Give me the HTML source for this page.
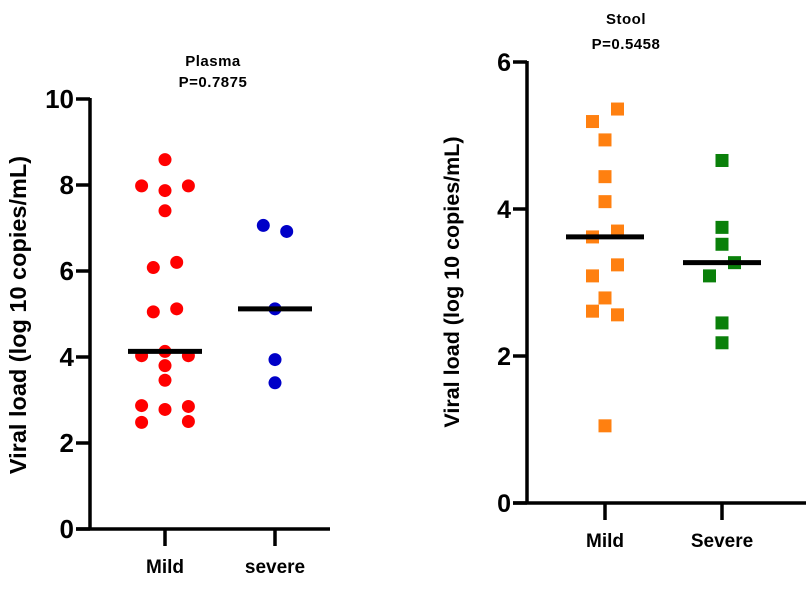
<!DOCTYPE html>
<html><head><meta charset="utf-8"><style>
body{margin:0;background:#fff;width:806px;height:584px;overflow:hidden}
svg text{font-family:"Liberation Sans",Arial,sans-serif;font-weight:bold}
</style></head><body>
<svg id="c" width="806" height="584" viewBox="0 0 806 584"></svg>
<script>
// Plasma panel data
const plasmaCats = ["Mild","severe"];
const plasmaMild = [8.59,7.98,7.98,7.87,7.40,6.08,6.20,5.05,5.12,4.03,4.13,4.03,3.80,3.46,2.87,2.78,2.85,2.48,2.50];
const plasmaMildJit = [0,-2,2,0,0,-1,1,-1,1,-2,0,2,0,0,-2,0,2,-2,2];
const plasmaSevere = [7.06,6.92,5.12,3.94,3.40];
const plasmaSevereJit = [-1,1,0,0,0];
const plasmaMedians = [4.13,5.12];
const plasmaTicks = [0,2,4,6,8,10];
// Stool panel data
const stoolCats = ["Mild","Severe"];
const stoolMild = [5.36,5.19,4.94,4.44,4.10,3.70,3.62,3.24,3.09,2.79,2.61,2.56,1.05];
const stoolMildJit = [1,-1,0,0,0,1,-1,1,-1,0,-1,1,0];
const stoolSevere = [4.66,3.75,3.52,3.27,3.09,2.45,2.18];
const stoolSevereJit = [0,0,0,1,-1,0,0];
const stoolMedians = [3.62,3.27];
const stoolTicks = [0,2,4,6];

const svg=document.getElementById('c');
const NS='http://www.w3.org/2000/svg';
function mk(t,a,p){const e=document.createElementNS(NS,t);for(const k in a)e.setAttribute(k,a[k]);(p||svg).appendChild(e);return e;}

function panel(o){
  const g=mk('g',{});
  
  
  const y=v=>o.y0-(v-o.min)/(o.max-o.min)*(o.y0-o.y1);
  const ax=mk('line',{x1:o.ax,y1:o.y1-1,x2:o.ax,y2:o.y0+1.5,stroke:'#000','stroke-width':3.5},g);
  
  
  const xa=mk('line',{x1:o.ax-14,y1:o.y0,x2:o.xEnd,y2:o.y0,stroke:'#000','stroke-width':3.5},g);
  
  
  o.ticks.forEach(t=>{
    const l=mk('line',{x1:o.ax-14,y1:y(t),x2:o.ax,y2:y(t),stroke:'#000','stroke-width':3.5},g);
    
    
    const tx=mk('text',{x:o.ax-16,y:y(t)+9,'text-anchor':'end','font-size':o.tickFs,fill:'#000'},g);
    tx.textContent=t;
    
    
  });
  o.cats.forEach((c,i)=>{
    const l=mk('line',{x1:o.cx[i],y1:o.y0,x2:o.cx[i],y2:o.y0+17,stroke:'#000','stroke-width':3.5},g);
    
    
    const tx=mk('text',{x:o.cx[i],y:o.y0+44,'text-anchor':'middle','font-size':19,fill:'#000'},g);
    tx.textContent=c;
    
    
  });
  o.series.forEach((s,i)=>{
    s.vals.forEach((v,j)=>{
      const cx=o.cx[i]+s.jit[j]*o.jw, cy=y(v);
      let e;
      if(o.shape==='circle') e=mk('circle',{cx:cx,cy:cy,r:6.5,fill:s.color},g);
      else e=mk('rect',{x:cx-6.5,y:cy-6.5,width:13,height:13,fill:s.color},g);
      
      
    });
  });
  o.medians.forEach((m,i)=>{
    const l=mk('line',{x1:o.cx[i]-o.mw,y1:y(m),x2:o.cx[i]+o.mw,y2:y(m),stroke:'#000','stroke-width':5},g);
    
    
  });
  const yt=mk('text',{x:0,y:0,'text-anchor':'middle','font-size':o.ytFs,fill:'#000',transform:`translate(${o.ytx},${o.yty}) rotate(-90)`},g);
  yt.textContent='Viral load (log 10 copies/mL)';
  
  
  o.title.forEach((t,i)=>{
    const tx=mk('text',{x:o.tx,y:o.ty+i*o.tdy,'text-anchor':'middle','font-size':15,fill:'#000','letter-spacing':'0.5'},g);
    tx.textContent=t;
    
    
  });
}

panel({name:'plasma-panel',ax:90,y0:529,y1:99,min:0,max:10,xEnd:330,ticks:plasmaTicks,tickFs:26,
  cats:plasmaCats,cx:[165,275],jw:11.7,shape:'circle',mw:37,
  series:[{vals:plasmaMild,jit:plasmaMildJit,color:'#ff0000'},{vals:plasmaSevere,jit:plasmaSevereJit,color:'#0000c8'}],
  medians:plasmaMedians,ytx:26,yty:315,ytFs:23.5,title:['Plasma','P=0.7875'],tx:213,ty:66,tdy:21});

panel({name:'stool-panel',ax:527,y0:503,y1:62,min:0,max:6,xEnd:806,ticks:stoolTicks,tickFs:25,
  cats:stoolCats,cx:[605,722],jw:12.5,shape:'square',mw:39,
  series:[{vals:stoolMild,jit:stoolMildJit,color:'#ff8010'},{vals:stoolSevere,jit:stoolSevereJit,color:'#0a800a'}],
  medians:stoolMedians,ytx:459,yty:282,ytFs:21.5,title:['Stool','P=0.5458'],tx:626,ty:24,tdy:25});
</script>
</body></html>
